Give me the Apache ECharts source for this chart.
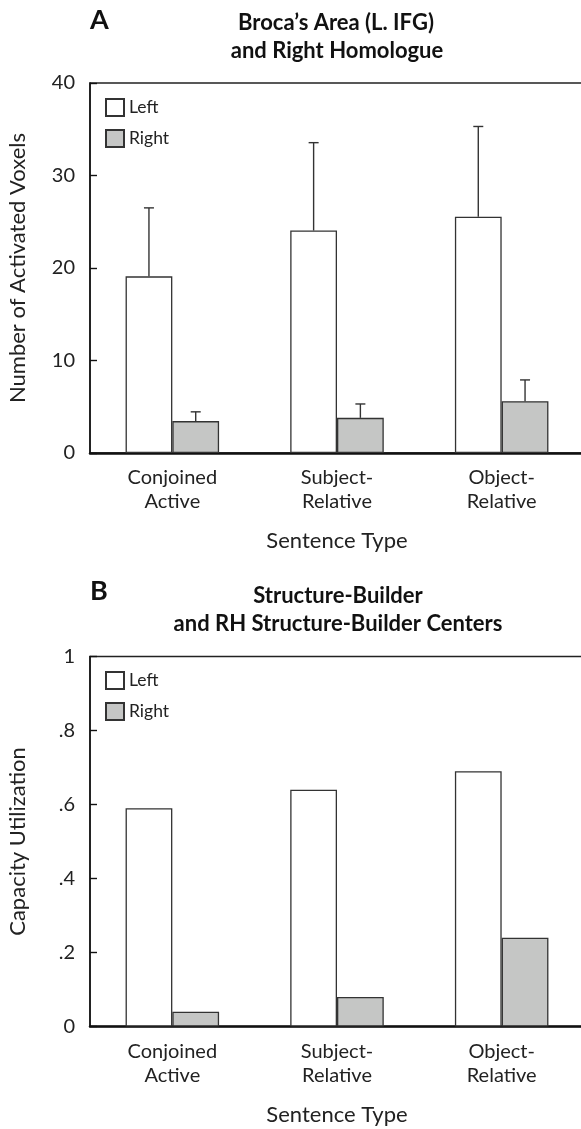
<!DOCTYPE html>
<html>
<head>
<meta charset="utf-8">
<script src="https://cdn.jsdelivr.net/npm/echarts@6/dist/echarts.min.js"></script>
<style>
  html, body { margin: 0; padding: 0; background: #fff; }
  #main { width: 581px; height: 1129px; }
</style>
</head>
<body>
<div id="main"></div>
<script>
// sentence types (x axis)
const categories = ['Conjoined\nActive', 'Subject-\nRelative', 'Object-\nRelative']

// panel A: activated voxels, bar heights and upper error bar sizes
const voxelsLeft = [19.1, 24.05, 25.55]
const voxelsRight = [3.45, 3.8, 5.6]
const voxelsLeftErr = [7.4, 9.5, 9.75]
const voxelsRightErr = [1.0, 1.5, 2.3]

// panel B: capacity utilization
const capacityLeft = [0.59, 0.64, 0.69]
const capacityRight = [0.04, 0.08, 0.24]

const FONT = 'Lato'
const INK = '#222'
const GRAY = '#c5c6c5'
const BAR_W = '28.4%'

function errItem(side) {
  return function(params, api) {
    const x = api.value(0)
    const v = api.value(1)
    const e = api.value(2)
    const band = api.size([1, 0])[0]
    const off = band * 0.142 * side
    const p0 = api.coord([x, v])
    const p1 = api.coord([x, v + e])
    const cx = p0[0] + off
    return {
      type: 'group',
      children: [
        { type: 'line', shape: { x1: cx, y1: p0[1], x2: cx, y2: p1[1] }, style: { stroke: '#333', lineWidth: 1.4 } },
        { type: 'line', shape: { x1: cx - 5, y1: p1[1], x2: cx + 5, y2: p1[1] }, style: { stroke: '#333', lineWidth: 1.4 } }
      ]
    }
  }
}

function xAxis(gridIndex) {
  return {
    type: 'category',
    gridIndex: gridIndex,
    data: categories,
    name: 'Sentence Type',
    nameLocation: 'middle',
    nameGap: 77,
    nameTextStyle: { fontFamily: FONT, fontSize: 22, color: INK },
    axisLine: { lineStyle: { color: '#111', width: 2.5 } },
    axisTick: { show: false },
    axisLabel: { interval: 0, margin: 13, lineHeight: 24, fontFamily: FONT, fontSize: 20, color: INK }
  }
}

function yAxis(gridIndex, max, interval, name, fmt) {
  return {
    type: 'value',
    gridIndex: gridIndex,
    min: 0,
    max: max,
    interval: interval,
    name: name,
    nameLocation: 'middle',
    nameGap: 61,
    nameTextStyle: { fontFamily: FONT, fontSize: 22, color: INK },
    axisLine: { show: true, lineStyle: { color: '#111', width: 1.6 } },
    axisTick: { show: true, inside: true, length: 7, lineStyle: { color: '#111', width: 1.4 } },
    axisLabel: { margin: 15, fontFamily: FONT, fontSize: 20, color: INK, formatter: fmt },
    splitLine: { show: false }
  }
}

function bars(name, data, xi, color) {
  return {
    name: name,
    type: 'bar',
    xAxisIndex: xi,
    yAxisIndex: xi,
    data: data,
    barWidth: BAR_W,
    barGap: '0%',
    itemStyle: { color: color, borderColor: '#333', borderWidth: 1.3 },
    animation: false
  }
}

function errors(vals, errs, side) {
  return {
    type: 'custom',
    xAxisIndex: 0,
    yAxisIndex: 0,
    renderItem: errItem(side),
    data: vals.map((v, i) => [i, v, errs[i]]),
    encode: { x: 0, y: 1 },
    z: 5,
    silent: true,
    animation: false
  }
}

function fmtB(v) {
  if (v === 0) return '0'
  if (v === 1) return '1'
  return String(+v.toFixed(1)).replace('0.', '.')
}

const chart = echarts.init(document.getElementById('main'), null, { renderer: 'canvas' })
const titleStyle = { fontFamily: FONT, fontWeight: 'bold', fontSize: 22, fill: '#111', textAlign: 'center', textVerticalAlign: 'middle' }

chart.setOption({
  animation: false,
  graphic: [
    { type: 'text', left: 90, top: 7, style: { text: 'A', fontFamily: FONT, fontWeight: 'bold', fontSize: 27, fill: '#111' } },
    { type: 'text', x: 336, y: 23, style: Object.assign({ text: 'Broca\u2019s Area (L. IFG)' }, titleStyle) },
    { type: 'text', x: 337, y: 51, style: Object.assign({ text: 'and Right Homologue' }, titleStyle) },
    { type: 'text', left: 90, top: 578, style: { text: 'B', fontFamily: FONT, fontWeight: 'bold', fontSize: 27, fill: '#111' } },
    { type: 'text', x: 338, y: 596, style: Object.assign({ text: 'Structure-Builder' }, titleStyle) },
    { type: 'text', x: 338, y: 624, style: Object.assign({ text: 'and RH Structure-Builder Centers' }, titleStyle) }
  ],
  legend: [
    { orient: 'vertical', left: 100, top: 93, itemWidth: 18, itemHeight: 17, itemGap: 12, icon: 'rect',
      data: ['Left', 'Right'], textStyle: { fontFamily: FONT, fontSize: 17.5, color: INK }, selectedMode: false },
    { orient: 'vertical', left: 100, top: 666, itemWidth: 18, itemHeight: 17, itemGap: 12, icon: 'rect',
      data: ['Left', 'Right'], textStyle: { fontFamily: FONT, fontSize: 17.5, color: INK }, selectedMode: false }
  ],
  grid: [
    { left: 90, width: 494, top: 83, height: 370, outerBoundsMode: 'none', containLabel: false,
      show: true, borderColor: '#222', borderWidth: 1.3, backgroundColor: 'transparent' },
    { left: 90, width: 494, top: 656.5, height: 370, outerBoundsMode: 'none', containLabel: false,
      show: true, borderColor: '#222', borderWidth: 1.3, backgroundColor: 'transparent' }
  ],
  xAxis: [xAxis(0), xAxis(1)],
  yAxis: [
    yAxis(0, 40, 10, 'Number of Activated Voxels'),
    yAxis(1, 1, 0.2, 'Capacity Utilization', fmtB)
  ],
  series: [
    bars('Left', voxelsLeft, 0, '#fff'),
    bars('Right', voxelsRight, 0, GRAY),
    errors(voxelsLeft, voxelsLeftErr, -1),
    errors(voxelsRight, voxelsRightErr, 1),
    bars('Left', capacityLeft, 1, '#fff'),
    bars('Right', capacityRight, 1, GRAY)
  ]
})
</script>
</body>
</html>
